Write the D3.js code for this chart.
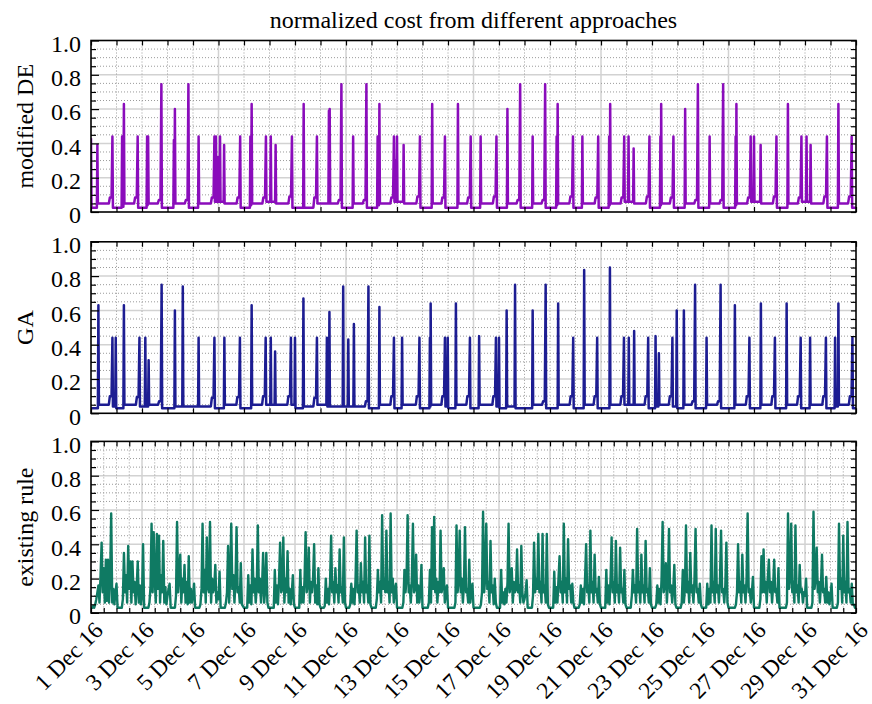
<!DOCTYPE html>
<html><head><meta charset="utf-8">
<script src="https://cdn.jsdelivr.net/npm/d3@7"></script>
<style>
body{margin:0;background:#fff}
text{font-family:"Liberation Serif","Times New Roman",serif;fill:#000}
</style></head>
<body><svg id="chart" width="872" height="704"></svg>
<script>
// ---------------- data ----------------
const chartTitle = "normalized cost from different approaches";
const panelLabels = ["modified DE", "GA", "existing rule"];
const yTickValues = [0, 0.2, 0.4, 0.6, 0.8, 1.0];
const yTickLabels = ["0", "0.2", "0.4", "0.6", "0.8", "1.0"];
const xTickDays = [0,2,4,6,8,10,12,14,16,18,20,22,24,26,28,30];
const xTickLabels = ["1 Dec 16","3 Dec 16","5 Dec 16","7 Dec 16","9 Dec 16","11 Dec 16","13 Dec 16","15 Dec 16",
  "17 Dec 16","19 Dec 16","21 Dec 16","23 Dec 16","25 Dec 16","27 Dec 16","29 Dec 16","31 Dec 16"];

// modified DE: spike time (days after 1 Dec 00:00), peak value, level after spike, small bump before spike
const deStart = [0.43, 0.025];
const deSpikeDays = [0.25,0.84,1.22,1.29,1.83,2.20,2.24,2.76,3.25,3.29,3.82,4.22,4.84,4.90,4.98,5.06,5.22,5.85,6.25,6.30,
  6.86,7.05,7.24,7.88,8.34,8.86,9.33,9.36,9.82,10.28,10.80,11.24,11.31,11.88,11.94,12.00,12.26,12.90,13.38,13.88,
  14.39,14.89,15.28,15.90,16.33,16.83,17.32,17.81,18.26,18.30,18.90,19.27,19.89,20.32,20.36,20.91,21.08,21.28,21.90,
  22.33,22.36,22.84,23.30,23.80,24.26,24.79,25.28,25.31,25.87,26.00,26.26,26.88,27.33,27.86,28.06,28.22,28.86,29.31,29.83];
const deSpikeValues = [0.39,0.44,0.44,0.63,0.44,0.44,0.44,0.745,0.42,0.60,0.745,0.44,0.44,0.44,0.32,0.44,0.39,0.44,0.44,0.63,
  0.44,0.44,0.39,0.44,0.63,0.44,0.59,0.60,0.745,0.44,0.745,0.44,0.63,0.44,0.30,0.44,0.39,0.44,0.63,0.44,
  0.63,0.44,0.44,0.44,0.60,0.745,0.44,0.745,0.44,0.63,0.44,0.44,0.44,0.44,0.63,0.44,0.44,0.37,0.44,
  0.44,0.63,0.44,0.60,0.745,0.44,0.745,0.44,0.63,0.44,0.44,0.39,0.44,0.63,0.44,0.44,0.39,0.44,0.63,0.44];
const deAfterLevels = [0.05,0.025,0.03,0.05,0.025,0.04,0.05,0.025,0.05,0.05,0.025,0.05,0.06,0.06,0.06,0.06,0.05,0.025,0.04,0.05,
  0.06,0.06,0.05,0.025,0.025,0.05,0.05,0.05,0.025,0.05,0.025,0.04,0.05,0.06,0.06,0.06,0.05,0.025,0.05,0.025,
  0.05,0.025,0.05,0.025,0.05,0.025,0.05,0.025,0.04,0.05,0.025,0.05,0.025,0.04,0.05,0.06,0.06,0.05,0.025,
  0.04,0.05,0.025,0.05,0.025,0.05,0.025,0.04,0.05,0.06,0.06,0.05,0.025,0.05,0.06,0.06,0.05,0.025,0.05,0.025];
const deBumpLevels = [0,0.085,0,0,0.085,0,0,0.07,0,0,0.07,0,0.085,0,0,0,0,0.085,0,0,
  0.085,0,0,0.09,0,0.085,0,0,0.07,0,0.07,0,0,0.085,0,0,0,0.09,0,0.085,
  0,0.085,0,0.09,0,0.07,0,0.07,0,0,0.09,0,0.085,0,0,0.085,0,0,0.09,
  0,0,0.085,0,0.07,0,0.07,0,0,0.085,0,0,0.09,0,0.085,0,0,0.09,0,0.09];

// GA
const gaStart = [0.03, 0.03];
const gaSpikeDays = [0.29,0.84,0.97,1.29,1.90,2.13,2.26,2.77,3.29,3.60,4.22,4.84,5.23,5.84,6.30,6.85,7.05,7.22,7.84,8.00,
  8.33,8.86,9.25,9.35,9.89,10.09,10.31,10.88,11.31,11.88,12.20,12.88,13.29,13.32,13.88,13.99,14.31,14.86,15.22,15.88,
  16.00,16.30,16.63,17.32,17.83,18.32,18.91,19.34,19.85,20.35,20.90,21.09,21.30,21.85,22.14,22.27,22.80,22.97,23.25,23.69,
  24.14,24.69,25.25,25.82,26.27,26.82,27.28,27.83,28.20,28.82,29.18,29.31,29.86];
const gaSpikeValues = [0.63,0.44,0.44,0.63,0.44,0.44,0.31,0.75,0.60,0.74,0.44,0.44,0.44,0.44,0.63,0.44,0.44,0.36,0.44,0.44,
  0.67,0.44,0.44,0.59,0.74,0.43,0.52,0.74,0.62,0.44,0.44,0.44,0.44,0.64,0.44,0.44,0.64,0.44,0.45,0.44,
  0.44,0.60,0.75,0.60,0.75,0.64,0.44,0.835,0.44,0.85,0.44,0.44,0.48,0.44,0.45,0.35,0.44,0.60,0.60,0.75,
  0.44,0.75,0.63,0.44,0.64,0.44,0.64,0.44,0.44,0.44,0.44,0.64,0.44];
const gaAfterLevels = [0.05,0.04,0.03,0.05,0.04,0.04,0.05,0.03,0.04,0.04,0.04,0.03,0.05,0.03,0.05,0.05,0.05,0.05,0.05,0.03,
  0.04,0.05,0.04,0.04,0.04,0.04,0.04,0.03,0.05,0.03,0.05,0.03,0.04,0.05,0.04,0.03,0.05,0.03,0.05,0.04,
  0.03,0.04,0.03,0.05,0.03,0.05,0.03,0.05,0.03,0.05,0.05,0.05,0.05,0.03,0.04,0.05,0.04,0.03,0.05,0.03,
  0.05,0.03,0.05,0.03,0.05,0.03,0.05,0.03,0.05,0.03,0.04,0.05,0.03];
const gaBumpLevels = [0,0.1,0,0,0.095,0,0,0.07,0,0,0,0.09,0,0.095,0,0.1,0,0,0.1,0,
  0,0.09,0,0,0,0,0,0.07,0,0.1,0,0.1,0,0,0.1,0,0,0.1,0,0.1,
  0,0,0,0,0.07,0,0.1,0,0.1,0,0.1,0,0,0.1,0,0,0.1,0,0,0.07,
  0,0.07,0,0.1,0,0.1,0,0.1,0,0.1,0,0,0.1];

// existing rule: hourly values, one row per day (1..30 Dec)
const ruleByDay = [
 [.03,.03,.04,.03,.05,.08,.12,.16,.06,.22,.41,.12,.26,.06,.31,.07,.31,.06,.2,.58,.06,.14,.05,.12],
 [.17,.03,.03,.03,.03,.03,.08,.35,.12,.22,.06,.39,.14,.3,.06,.3,.12,.18,.05,.15,.3,.06,.16,.05],
 [.1,.4,.03,.03,.03,.03,.03,.06,.15,.52,.12,.47,.2,.06,.46,.14,.45,.06,.22,.12,.42,.06,.15,.05],
 [.1,.14,.17,.03,.03,.03,.03,.03,.1,.53,.12,.22,.34,.06,.2,.12,.28,.06,.18,.05,.33,.06,.14,.06],
 [.1,.17,.03,.03,.03,.03,.03,.05,.14,.52,.12,.25,.06,.44,.15,.12,.53,.06,.2,.12,.15,.28,.06,.12],
 [.08,.24,.03,.03,.03,.03,.03,.06,.12,.39,.06,.2,.52,.14,.22,.06,.18,.5,.12,.15,.06,.29,.05,.04],
 [.03,.03,.03,.03,.22,.06,.16,.05,.37,.12,.2,.06,.15,.51,.12,.2,.06,.16,.35,.06,.14,.35,.06,.03],
 [.03,.03,.03,.03,.03,.25,.06,.16,.05,.2,.41,.12,.14,.44,.06,.2,.12,.36,.06,.14,.05,.12,.22,.05],
 [.03,.03,.03,.03,.03,.25,.06,.15,.06,.2,.47,.12,.16,.38,.06,.18,.12,.2,.4,.06,.16,.05,.26,.05],
 [.03,.03,.03,.03,.04,.2,.06,.14,.05,.18,.45,.12,.18,.06,.26,.12,.16,.06,.37,.12,.15,.06,.44,.06],
 [.03,.03,.03,.03,.05,.17,.06,.14,.05,.2,.48,.12,.16,.06,.29,.12,.18,.06,.44,.12,.16,.06,.45,.05],
 [.03,.03,.03,.03,.03,.08,.25,.12,.18,.06,.57,.14,.2,.12,.48,.12,.18,.06,.58,.12,.2,.06,.14,.17],
 [.03,.03,.03,.03,.03,.03,.06,.25,.12,.2,.57,.12,.16,.06,.2,.52,.12,.14,.34,.06,.16,.06,.12,.28],
 [.03,.03,.03,.03,.03,.03,.06,.25,.06,.5,.14,.56,.12,.2,.06,.18,.12,.48,.12,.16,.26,.06,.12,.16],
 [.03,.03,.03,.03,.03,.03,.03,.06,.51,.12,.18,.48,.12,.2,.06,.16,.5,.12,.14,.06,.31,.06,.12,.17],
 [.03,.03,.03,.03,.03,.03,.03,.05,.12,.59,.12,.2,.52,.14,.18,.06,.42,.12,.16,.05,.2,.06,.03,.03],
 [.03,.03,.25,.06,.12,.05,.14,.06,.18,.52,.12,.16,.26,.06,.18,.12,.14,.37,.12,.16,.06,.39,.12,.06],
 [.08,.12,.19,.03,.03,.03,.03,.03,.1,.41,.12,.2,.14,.46,.12,.18,.06,.46,.12,.16,.06,.46,.05,.03],
 [.03,.03,.03,.03,.24,.06,.15,.06,.2,.33,.12,.18,.06,.52,.12,.2,.06,.43,.14,.16,.06,.17,.06,.03],
 [.03,.03,.03,.03,.05,.16,.06,.14,.05,.2,.4,.12,.16,.06,.48,.12,.18,.06,.34,.12,.14,.06,.21,.05],
 [.03,.03,.03,.03,.03,.25,.06,.16,.05,.2,.44,.12,.18,.06,.42,.12,.16,.06,.38,.12,.14,.06,.25,.05],
 [.03,.03,.03,.03,.03,.1,.25,.12,.16,.06,.49,.12,.18,.06,.34,.12,.16,.06,.42,.12,.14,.06,.26,.05],
 [.03,.03,.03,.03,.05,.16,.06,.14,.05,.2,.53,.12,.16,.29,.06,.18,.49,.12,.16,.06,.14,.28,.05,.03],
 [.03,.03,.03,.03,.06,.25,.06,.14,.51,.12,.18,.06,.35,.12,.16,.06,.2,.49,.12,.14,.06,.17,.05,.03],
 [.03,.03,.03,.03,.17,.05,.14,.06,.51,.12,.18,.06,.49,.12,.16,.06,.2,.48,.12,.14,.06,.16,.41,.06],
 [.03,.03,.03,.03,.03,.03,.03,.05,.12,.4,.12,.18,.06,.34,.12,.16,.06,.2,.58,.12,.14,.06,.12,.21],
 [.03,.03,.03,.03,.03,.03,.08,.33,.12,.37,.12,.18,.06,.2,.31,.12,.18,.06,.16,.31,.12,.14,.06,.26],
 [.03,.03,.03,.03,.03,.03,.03,.06,.58,.14,.2,.52,.12,.18,.06,.51,.12,.16,.06,.28,.12,.14,.06,.12],
 [.1,.2,.03,.03,.03,.03,.03,.06,.59,.14,.2,.38,.12,.18,.06,.16,.34,.12,.14,.06,.21,.06,.12,.05],
 [.1,.17,.03,.03,.03,.03,.03,.06,.52,.14,.2,.06,.45,.12,.18,.06,.53,.12,.14,.06,.17,.05,.05,.03]
];
const ruleEndValue = 0.03;

const seriesColors = ["#8a0cbb", "#1d1d92", "#0f7a63"];

// ---------------- layout ----------------
const plotLeft = 91, plotRight = 856;
const panelTops = [40.5, 241.8, 441.4];
const panelHeight = 171.5;

const dayMs = 864e5;
const t0 = Date.UTC(2016, 11, 1);
const toDate = d => new Date(t0 + d * dayMs);

const svg = d3.select("#chart");
const x = d3.scaleUtc().domain([toDate(0), toDate(30)]).range([plotLeft, plotRight]);

function spikeSeries(start, days, vals, after, bumps) {
  const hw = 0.02;
  const pts = [[0, start[0]], [hw, start[1]]];
  let level = start[1], prevT = hw;
  days.forEach((t, i) => {
    if (bumps[i] > 0 && t - prevT > 0.2) {
      pts.push([t - 0.14, level], [t - 0.1, bumps[i]], [t - 0.035, bumps[i]]);
    } else if (t - hw > prevT) {
      pts.push([t - hw, level]);
    }
    pts.push([t, vals[i]], [t + hw, after[i]]);
    level = after[i]; prevT = t + hw;
  });
  pts.push([30, level]);
  return pts;
}

const ruleFlat = ruleByDay.flat().concat([ruleEndValue]);
const seriesPoints = [
  spikeSeries(deStart, deSpikeDays, deSpikeValues, deAfterLevels, deBumpLevels),
  spikeSeries(gaStart, gaSpikeDays, gaSpikeValues, gaAfterLevels, gaBumpLevels),
  ruleFlat.map((v, i) => [i / 24, v])
];
const strokeWidths = [2.5, 2.5, 2.4];

svg.append("text").attr("x", (plotLeft + plotRight) / 2).attr("y", 28)
  .attr("text-anchor", "middle").style("font-size", "24px").text(chartTitle);

const yFine = d3.range(0, 21).map(i => +(i * 0.05).toFixed(2));
const yMinorGrid = yFine.filter(v => v > 0 && v < 1 && Math.round(v * 100) % 20 !== 0);
const yMajorGrid = [0.2, 0.4, 0.6, 0.8];
const yMinorTicks = yFine.filter(v => Math.round(v * 100) % 20 !== 0);

panelTops.forEach((top, p) => {
  const bottom = top + panelHeight;
  const y = d3.scaleLinear().domain([0, 1]).range([bottom, top]);
  const g = svg.append("g");

  g.append("clipPath").attr("id", "clip" + p).append("rect")
    .attr("x", plotLeft).attr("y", top).attr("width", plotRight - plotLeft).attr("height", panelHeight);

  // vertical grid
  let dotDays, solidDays;
  if (p < 2) {
    dotDays = d3.range(1, 30).filter(d => d % 5 !== 0);
    solidDays = [5, 10, 15, 20, 25];
  } else {
    dotDays = d3.range(1, 60).map(i => i / 2).filter(d => d % 2 !== 0);
    solidDays = d3.range(2, 30, 2);
  }
  g.selectAll(".vs").data(solidDays).join("line")
    .attr("x1", d => x(toDate(d))).attr("x2", d => x(toDate(d)))
    .attr("y1", top).attr("y2", bottom).attr("stroke", "#d2d2d2").attr("stroke-width", 1.5);
  g.selectAll(".hs").data(yMajorGrid).join("line")
    .attr("x1", plotLeft).attr("x2", plotRight).attr("y1", d => y(d)).attr("y2", d => y(d))
    .attr("stroke", "#d2d2d2").attr("stroke-width", 1.5);
  g.selectAll(".vd").data(dotDays).join("line")
    .attr("x1", d => x(toDate(d))).attr("x2", d => x(toDate(d)))
    .attr("y1", top).attr("y2", bottom).attr("stroke", "#9a9a9a").attr("stroke-width", 1)
    .attr("stroke-dasharray", "1,2");
  g.selectAll(".hd").data(yMinorGrid).join("line")
    .attr("x1", plotLeft).attr("x2", plotRight).attr("y1", d => y(d)).attr("y2", d => y(d))
    .attr("stroke", "#9a9a9a").attr("stroke-width", 1).attr("stroke-dasharray", "1,2");

  // data
  const line = d3.line().x(d => x(toDate(d[0]))).y(d => y(d[1]));
  g.append("path").datum(seriesPoints[p]).attr("d", line)
    .attr("clip-path", `url(#clip${p})`)
    .attr("fill", "none").attr("stroke", seriesColors[p]).attr("stroke-width", strokeWidths[p])
    .attr("stroke-linejoin", "round");

  // axes / ticks
  const tickDays = p < 2 ? d3.range(0, 31) : d3.range(0, 61).map(i => i / 2);
  const styleAxis = sel => { sel.select(".domain").remove(); sel.selectAll("line").attr("stroke", "#000").attr("stroke-width", 1.2); };

  g.append("g").attr("transform", `translate(${plotLeft},0)`)
    .call(d3.axisLeft(y).tickValues(yTickValues).tickSize(-8).tickPadding(10).tickFormat((d, i) => yTickLabels[i]))
    .call(styleAxis)
    .call(s => s.selectAll("text").attr("dy", "0.45em").style("font-size", "24px")
      .style("font-family", '"Liberation Serif",serif'));
  g.append("g").attr("transform", `translate(${plotLeft},0)`)
    .call(d3.axisLeft(y).tickValues(yMinorTicks).tickSize(-5).tickFormat(""))
    .call(styleAxis);
  g.append("g").attr("transform", `translate(${plotRight},0)`)
    .call(d3.axisRight(y).tickValues(yFine).tickSize(-5).tickFormat(""))
    .call(styleAxis);
  g.append("g").attr("transform", `translate(0,${top})`)
    .call(d3.axisTop(x).tickValues(tickDays.map(toDate)).tickSize(-5).tickFormat(""))
    .call(styleAxis);
  g.append("g").attr("transform", `translate(0,${bottom})`)
    .call(d3.axisBottom(x).tickValues(tickDays.map(toDate)).tickSize(-5).tickFormat(""))
    .call(styleAxis);

  if (p === 2) {
    g.append("g").attr("transform", `translate(0,${bottom})`)
      .call(d3.axisBottom(x).tickValues(xTickDays.map(toDate)).tickSize(0).tickFormat((d, i) => xTickLabels[i]))
      .call(s => s.select(".domain").remove())
      .call(s => s.selectAll("text").attr("y", 0).attr("x", 0).attr("dy", "0.35em")
        .attr("text-anchor", "end").attr("transform", "translate(7,13) rotate(-45)")
        .style("font-size", "23.5px").style("font-family", '"Liberation Serif",serif'));
  }

  // frame
  g.append("rect").attr("x", plotLeft).attr("y", top).attr("width", plotRight - plotLeft).attr("height", panelHeight)
    .attr("fill", "none").attr("stroke", "#000").attr("stroke-width", 1.6);

  // y label
  svg.append("text").attr("transform", `translate(33,${top + panelHeight / 2}) rotate(-90)`)
    .attr("text-anchor", "middle").style("font-size", "24px").text(panelLabels[p]);
});
</script></body></html>
